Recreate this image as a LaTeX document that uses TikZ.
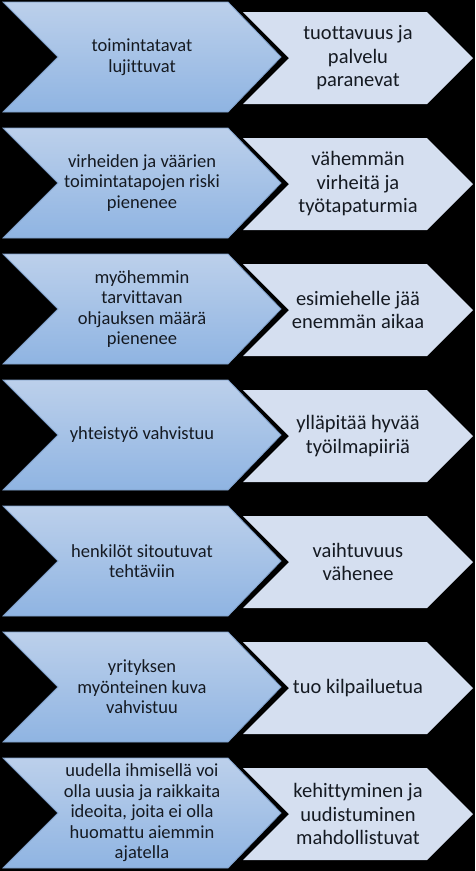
\documentclass[tikz,border=0pt]{standalone}
\usepackage{fontspec}
\setmainfont{Carlito}[Ligatures=NoCommon]
\usepackage{tikz}
\definecolor{causetop}{HTML}{BCD0EB}
\definecolor{causebottom}{HTML}{8FB4E2}
\definecolor{causeedge}{HTML}{7E9EC8}
\definecolor{effectfill}{HTML}{D5DFF0}
\definecolor{textdark}{HTML}{151A22}
\tikzstyle{cause}=[top color=causetop, bottom color=causebottom, draw=causeedge, line width=0.8pt]
\tikzstyle{effect}=[fill=effectfill]
\tikzstyle{causetext}=[align=center, text=textdark, font=\fontsize{18.5}{20.5}\selectfont]
\tikzstyle{effecttext}=[align=center, text=textdark, font=\fontsize{20.5}{23.5}\selectfont]

\begin{document}
\begin{tikzpicture}[x=1pt, y=-1pt]
% Background
    \fill[black] (0,0) rectangle (475,871);
    \useasboundingbox (0,0) rectangle (475,871);
% Causes
    \shade[cause] (3,2) -- (228,2) -- (281,57) -- (228,112) -- (3,112) -- (58,57) -- cycle;
    \shade[cause] (3,128) -- (228,128) -- (281,183) -- (228,238) -- (3,238) -- (58,183) -- cycle;
    \shade[cause] (3,254) -- (228,254) -- (281,309) -- (228,364) -- (3,364) -- (58,309) -- cycle;
    \shade[cause] (3,380) -- (228,380) -- (281,435) -- (228,490) -- (3,490) -- (58,435) -- cycle;
    \shade[cause] (3,506) -- (228,506) -- (281,561) -- (228,616) -- (3,616) -- (58,561) -- cycle;
    \shade[cause] (3,632) -- (228,632) -- (281,687) -- (228,742) -- (3,742) -- (58,687) -- cycle;
    \shade[cause] (3,758) -- (228,758) -- (281,813) -- (228,868) -- (3,868) -- (58,813) -- cycle;
% Effects
    \fill[effect] (243,12) -- (427,12) -- (473,58) -- (427,104) -- (243,104) -- (289,58) -- cycle;
    \fill[effect] (243,138) -- (427,138) -- (473,184) -- (427,230) -- (243,230) -- (289,184) -- cycle;
    \fill[effect] (243,264) -- (427,264) -- (473,310) -- (427,356) -- (243,356) -- (289,310) -- cycle;
    \fill[effect] (243,390) -- (427,390) -- (473,436) -- (427,482) -- (243,482) -- (289,436) -- cycle;
    \fill[effect] (243,516) -- (427,516) -- (473,562) -- (427,608) -- (243,608) -- (289,562) -- cycle;
    \fill[effect] (243,642) -- (427,642) -- (473,688) -- (427,734) -- (243,734) -- (289,688) -- cycle;
    \fill[effect] (243,768) -- (427,768) -- (473,814) -- (427,860) -- (243,860) -- (289,814) -- cycle;
% Cause labels
    \node[causetext] (cause1) at (142,57) {toimintatavat\\lujittuvat};
    \node[causetext] (cause2) at (142,183) {virheiden ja väärien\\toimintatapojen riski\\pienenee};
    \node[causetext] (cause3) at (142,309) {myöhemmin\\tarvittavan\\ohjauksen määrä\\pienenee};
    \node[causetext] (cause4) at (142,435) {yhteistyö vahvistuu};
    \node[causetext] (cause5) at (142,561) {henkilöt sitoutuvat\\tehtäviin};
    \node[causetext] (cause6) at (142,687) {yrityksen\\myönteinen kuva\\vahvistuu};
    \node[causetext] (cause7) at (142,813) {uudella ihmisellä voi\\olla uusia ja raikkaita\\ideoita, joita ei olla\\huomattu aiemmin\\ajatella};
% Effect labels
    \node[effecttext] (effect1) at (358,58) {tuottavuus ja\\palvelu\\paranevat};
    \node[effecttext] (effect2) at (358,184) {vähemmän\\virheitä ja\\työtapaturmia};
    \node[effecttext] (effect3) at (358,310) {esimiehelle jää\\enemmän aikaa};
    \node[effecttext] (effect4) at (358,436) {ylläpitää hyvää\\työilmapiiriä};
    \node[effecttext] (effect5) at (358,562) {vaihtuvuus\\vähenee};
    \node[effecttext] (effect6) at (358,688) {tuo kilpailuetua};
    \node[effecttext] (effect7) at (358,814) {kehittyminen ja\\uudistuminen\\mahdollistuvat};
\end{tikzpicture}
\end{document}
